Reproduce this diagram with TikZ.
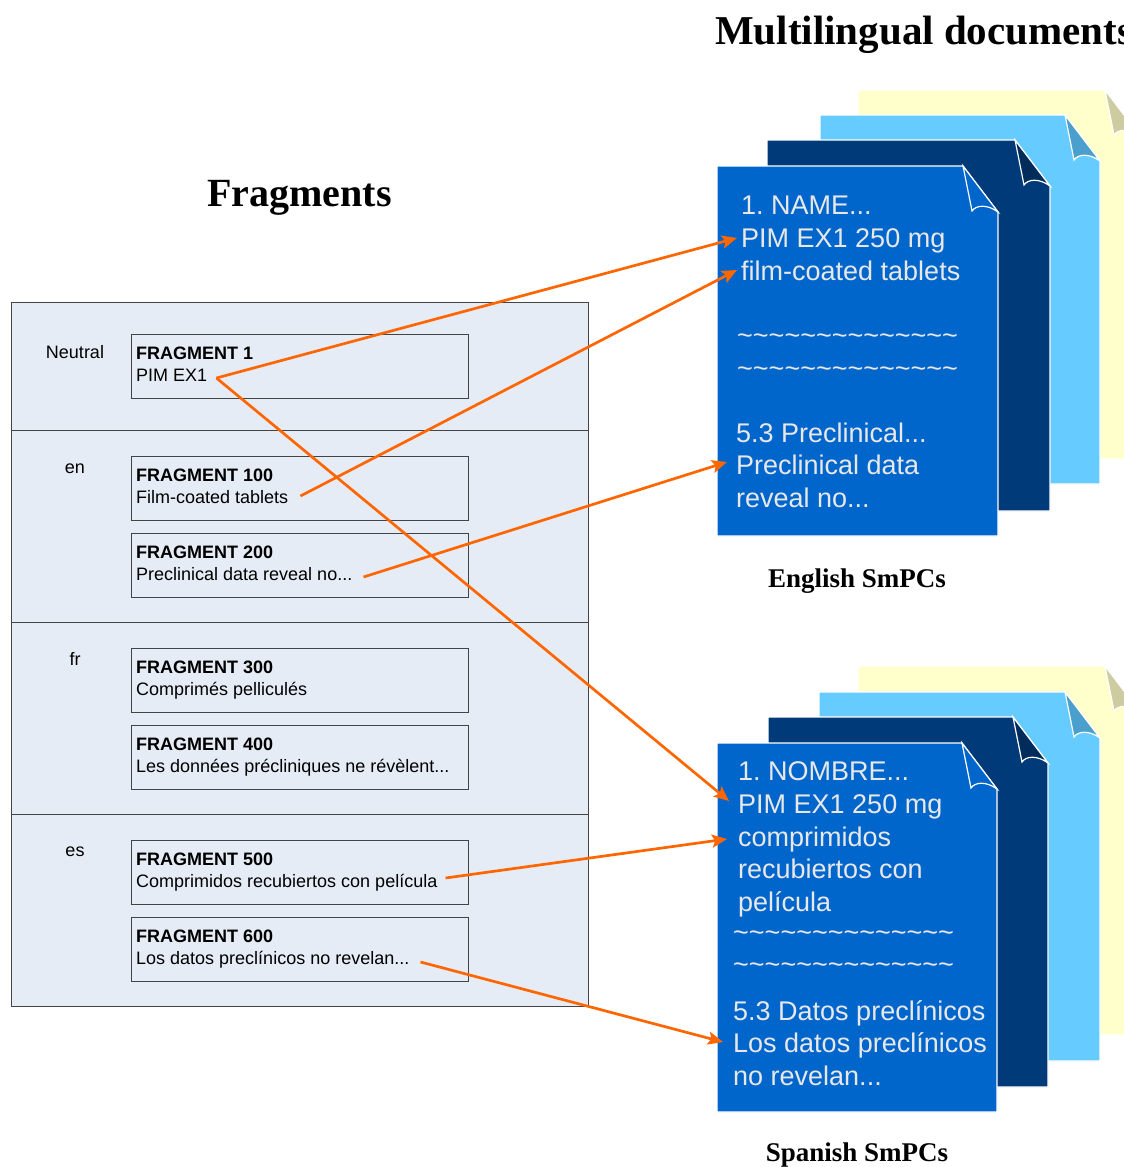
\documentclass[tikz,border=0pt]{standalone}
\usepackage{fontspec}
\setmainfont{Liberation Sans}
\newfontfamily\headfont{Liberation Serif}
\usetikzlibrary{arrows.meta,calc}
\frenchspacing

\definecolor{panelfill}{HTML}{E6ECF6}
\definecolor{panelline}{HTML}{444444}
\definecolor{linkorange}{HTML}{FF6600}
\definecolor{docfront}{HTML}{0066CC}
\definecolor{docnavy}{HTML}{003A78}
\definecolor{docnavyflap}{HTML}{002C5C}
\definecolor{docsky}{HTML}{66CCFF}
\definecolor{docskyflap}{HTML}{4A9FCC}
\definecolor{doccream}{HTML}{FFFFCC}
\definecolor{doccreamflap}{HTML}{CCCCA0}
\definecolor{doctext}{HTML}{E8E8E8}

\tikzset{
  heading/.style={font=\headfont\bfseries\fontsize{40}{44}\selectfont, anchor=base west, inner sep=0},
  subheading/.style={font=\headfont\bfseries\fontsize{27}{30}\selectfont, anchor=base, inner sep=0},
  section/.style={draw=panelline, fill=panelfill, line width=1.2pt, minimum width=577pt, anchor=north west, inner sep=0},
  langlabel/.style={font=\fontsize{18}{20}\selectfont, anchor=base, inner sep=0},
  fragbox/.style={draw=panelline, fill=panelfill, line width=1.2pt, minimum width=337pt, minimum height=64pt, anchor=north west, inner sep=0},
  fraghead/.style={font=\bfseries\fontsize{18}{20}\selectfont, anchor=base west, inner sep=0},
  fragtext/.style={font=\fontsize{18}{20}\selectfont, anchor=base west, inner sep=0},
  docline/.style={font=\fontsize{27}{30}\selectfont, text=doctext, anchor=base west, inner sep=0},
  sheet/.style={draw=white, line width=1.2pt, line join=miter},
  link/.style={draw=linkorange, line width=2.7pt, -{Stealth[length=15pt,width=13pt,inset=3pt]}},
}

% one document sheet with a folded top-right corner: x0, y0, x1, y1, body colour, flap colour
\newcommand\docsheet[6]{%
  \filldraw[sheet, fill=#5] (#1,#2) -- (#3-35,#2) -- (#3,#2+46) -- (#3,#4) -- (#1,#4) -- cycle;
  \filldraw[sheet, fill=#6] (#3-35,#2) -- (#3-26,#2+45)
    .. controls (#3-22,#2+39) and (#3-11,#2+38) .. (#3,#2+46) -- cycle;
}
\newcommand\wavyrule{\textasciitilde\textasciitilde\textasciitilde\textasciitilde\textasciitilde\textasciitilde\textasciitilde\textasciitilde\textasciitilde\textasciitilde\textasciitilde\textasciitilde\textasciitilde\textasciitilde}
\newcommand\trail{...}

\begin{document}
\begin{tikzpicture}[x=1pt,y=-1pt]
\useasboundingbox (0,0) rectangle (1124,1167);
\clip (0,0) rectangle (1124,1167);

% ---- headings
\node[heading, font=\headfont\bfseries\fontsize{41}{45}\selectfont] (titleDocs) at (715,44) {Multilingual documents};
\node[heading] (titleFrags) at (207,206) {Fragments};

% ---- fragment repository, one band per language
\node[section, minimum height=128pt] (secN)  at (11,302) {};
\node[section, minimum height=192pt] (secEn) at (11,430) {};
\node[section, minimum height=192pt] (secFr) at (11,622) {};
\node[section, minimum height=192pt] (secEs) at (11,814) {};

\node[langlabel] (labN)  at (75,358) {Neutral};
\node[langlabel] (labEn) at (75,473) {en};
\node[langlabel] (labFr) at (75,665) {fr};
\node[langlabel] (labEs) at (75,856) {es};

\foreach \id/\top/\head/\body in {
    f1/334/FRAGMENT 1/PIM EX1,
    f100/456/FRAGMENT 100/Film-coated tablets,
    f200/533/FRAGMENT 200/Preclinical data reveal no\trail,
    f300/648/FRAGMENT 300/Comprimés pelliculés,
    f400/725/FRAGMENT 400/Les données précliniques ne révèlent\trail,
    f500/840/FRAGMENT 500/Comprimidos recubiertos con película,
    f600/917/FRAGMENT 600/Los datos preclínicos no revelan\trail}{
  \node[fragbox] (\id) at (131,\top) {};
  \node[fraghead] (\id a) at ($(\id.north west)+(5,25.5)$) {\head};
  \node[fragtext] (\id b) at ($(\id.north west)+(5,47.5)$) {\body};
}

% ---- English SmPC stack
\docsheet{858}{90}{1140}{459}{doccream}{doccreamflap}
\docsheet{820}{115}{1100}{484}{docsky}{docskyflap}
\docsheet{767}{140}{1050}{511}{docnavy}{docnavyflap}
\docsheet{717}{166}{998}{536}{docfront}{docfront}

\node[docline] (enA) at (741,214) {1. NAME...};
\node[docline] (enB) at (741,247) {PIM EX1 250 mg};
\node[docline] (enC) at (741,280) {film-coated tablets};
\node[docline] (enD) at (737,344) {\wavyrule};
\node[docline] (enE) at (737,377) {\wavyrule};
\node[docline] (enF) at (736,442) {5.3 Preclinical...};
\node[docline] (enG) at (736,474) {Preclinical data};
\node[docline] (enH) at (736,507) {reveal no...};
\node[subheading] (capEn) at (857,587) {English SmPCs};

% ---- Spanish SmPC stack
\docsheet{858}{666}{1140}{1035}{doccream}{doccreamflap}
\docsheet{819}{692}{1100}{1061}{docsky}{docskyflap}
\docsheet{768}{717}{1048}{1087}{docnavy}{docnavyflap}
\docsheet{717}{743}{997}{1112}{docfront}{docfront}

\node[docline] (esA) at (738,780) {1. NOMBRE...};
\node[docline] (esB) at (738,813) {PIM EX1 250 mg};
\node[docline] (esC) at (738,846) {comprimidos};
\node[docline] (esD) at (738,878) {recubiertos con};
\node[docline] (esE) at (738,911) {película};
\node[docline] (esF) at (733,941) {\wavyrule};
\node[docline] (esG) at (733,973) {\wavyrule};
\node[docline] (esH) at (733,1020) {5.3 Datos preclínicos};
\node[docline] (esI) at (733,1052) {Los datos preclínicos};
\node[docline] (esJ) at (733,1085) {no revelan...};
\node[subheading] (capEs) at (857,1161) {Spanish SmPCs};

% ---- fragment usage links
\draw[link] ([xshift=9pt,yshift=3.5pt]f1b.base east) -- ([xshift=-4pt,yshift=9pt]enB.base west);
\draw[link] ([xshift=9pt,yshift=3.5pt]f1b.base east) -- ([xshift=-9pt,yshift=12pt]esB.base west);
\draw[link] ([xshift=12pt,yshift=7.5pt]f100b.base east) -- ([xshift=-4pt,yshift=10pt]enC.base west);
\draw[link] ([xshift=11pt,yshift=3.5pt]f200b.base east) -- ([xshift=-9pt,yshift=12pt]enG.base west);
\draw[link] ([xshift=8pt,yshift=9.5pt]f500b.base east) -- ([xshift=-11pt,yshift=7pt]esC.base west);
\draw[link] ([xshift=11pt,yshift=2.5pt]f600b.base east) -- ([xshift=-10pt,yshift=10pt]esI.base west);
\end{tikzpicture}
\end{document}
